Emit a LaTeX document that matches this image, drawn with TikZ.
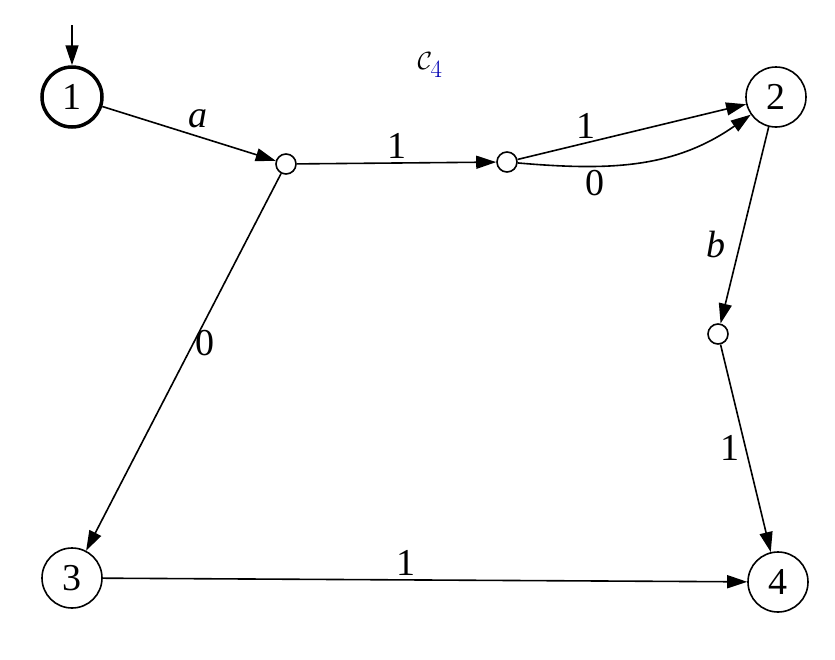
\documentclass[tikz,border=0pt]{standalone}
\usepackage{fontspec}
\setmainfont{Liberation Serif}
\usetikzlibrary{arrows.meta}
\begin{document}
\begin{tikzpicture}[x=1pt,y=-1pt,
  st/.style={circle,draw,line width=1.6pt,minimum size=60pt,inner sep=0pt,font=\fontsize{38}{40}\selectfont},
  sm/.style={circle,draw,line width=1.6pt,minimum size=20pt,inner sep=0pt},
  ar/.style={draw,line width=1.6pt,-{Triangle[length=20pt,width=13pt]}},
  lb/.style={font=\fontsize{38}{40}\selectfont}]
\useasboundingbox (0,0) rectangle (835,659);
\node[st,line width=3.5pt] (n1) at (72,97) {1};
\node[st] (n2) at (776,97) {2};
\node[st] (n3) at (72,578) {3};
\node[st] (n4) at (778,582) {4};
\node[sm] (a) at (286,164) {};
\node[sm] (b) at (507,162) {};
\node[sm] (c) at (718,334) {};
\coordinate (s) at (72,25);
\node[lb] at (430,65) {$\mathcal{C}_{\textcolor{blue!70!black}{4}}$};
\draw[ar] (s) -- (n1);
\draw[ar] (n1) -- node[lb,above,pos=0.55,yshift=4pt] {\textit{a}} (a);
\draw[ar] (a) -- node[lb,above] {1} (b);
\draw[ar] (b) -- node[lb,above,pos=0.3] {1} (n2);
\draw[ar] (b) to[out=-5,in=215] node[lb,below,pos=0.3] {0} (n2);
\draw[ar] (n2) -- node[lb,left,pos=0.6,xshift=-10pt] {\textit{b}} (c);
\draw[ar] (c) -- node[lb,left,pos=0.5,xshift=-2pt] {1} (n4);
\draw[ar] (a) -- node[lb,right,pos=0.45,xshift=-2pt] {0} (n3);
\draw[ar] (n3) -- node[lb,above,pos=0.47] {1} (n4);
\end{tikzpicture}
\end{document}
